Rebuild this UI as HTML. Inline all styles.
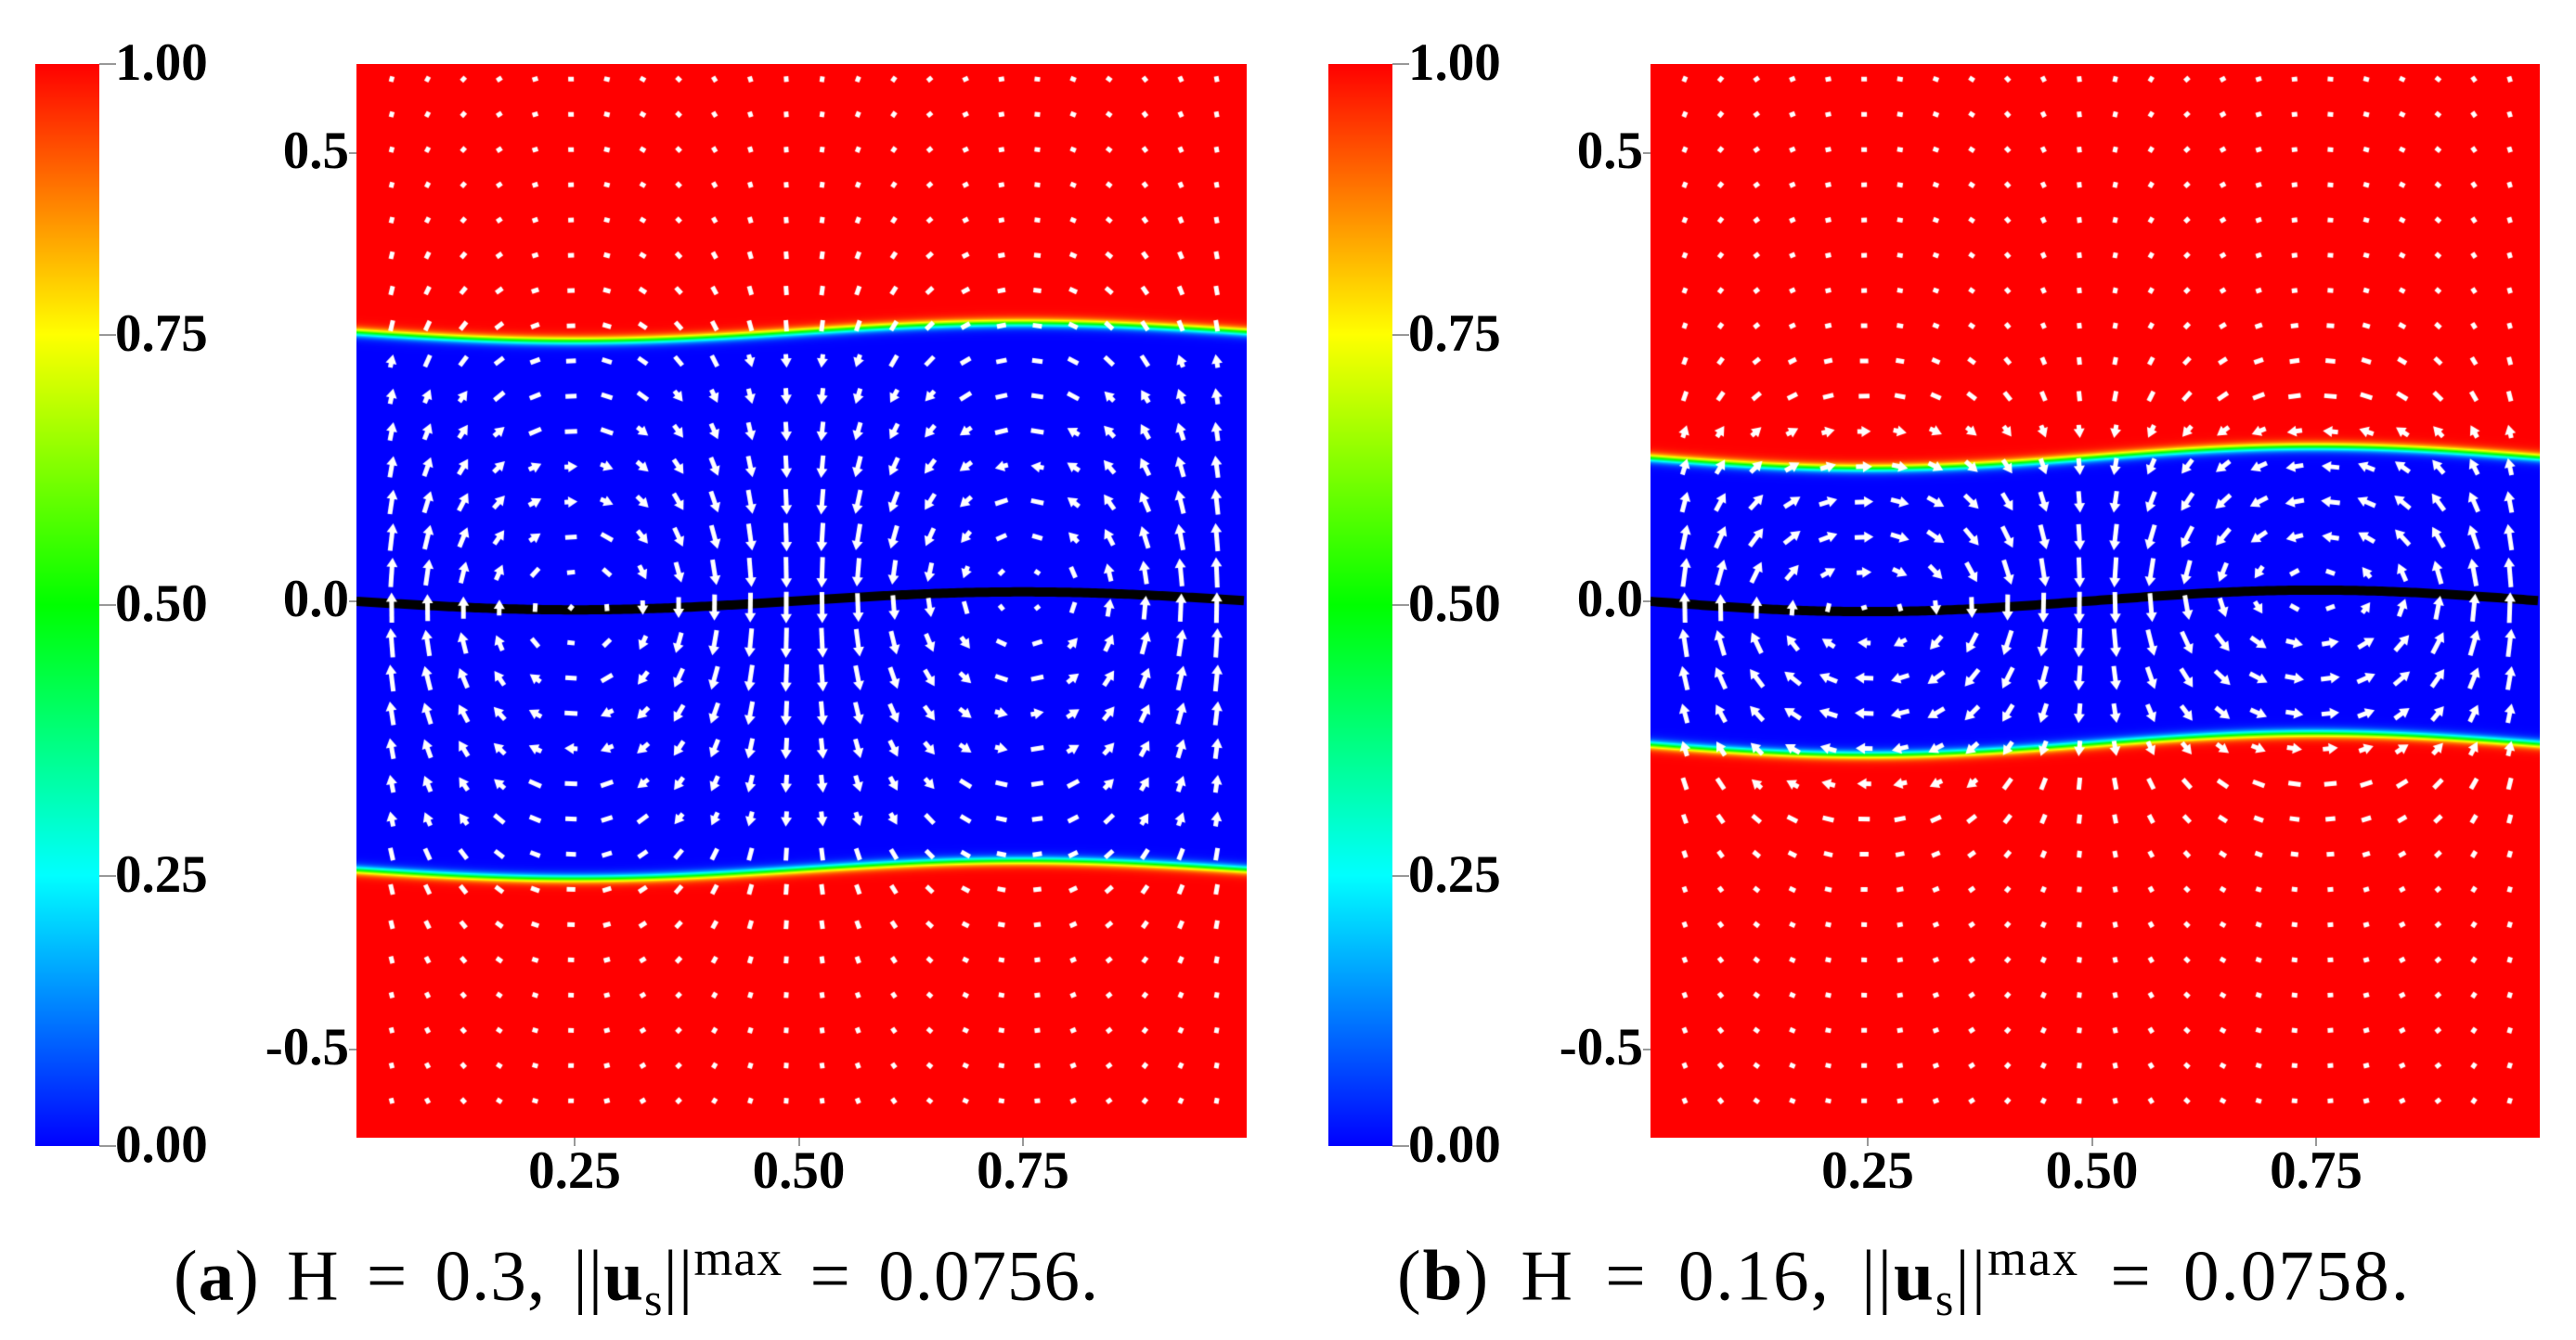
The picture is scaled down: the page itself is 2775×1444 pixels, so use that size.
<!DOCTYPE html>
<html><head><meta charset="utf-8">
<style>
html,body{margin:0;padding:0;background:#fff;}
body{width:2775px;height:1444px;position:relative;overflow:hidden;font-family:"Liberation Serif",serif;}
.lbl{position:absolute;font-weight:bold;font-size:57px;line-height:57px;color:#000;white-space:nowrap;}
.cap{position:absolute;font-size:77px;line-height:77px;color:#000;white-space:nowrap;letter-spacing:1px;word-spacing:9px;}
canvas{position:absolute;}
.cb{position:absolute;background:linear-gradient(to top,#0000ff 0%,#00ffff 25%,#00ff00 50%,#ffff00 75%,#ff0000 100%);}
.tk{position:absolute;background:#999;}
</style></head>
<body>
<div id="root"></div>
<div class="cap" style="left:187px;top:1318px;">(<b>a</b>) H = 0.3, ||<b>u</b><sub style="font-size:50px">s</sub>||<sup style="font-size:54px">max</sup> = 0.0756.</div>
<div class="cap" style="left:1505px;top:1318px;letter-spacing:2px;word-spacing:12px;">(<b>b</b>) H = 0.16, ||<b>u</b><sub style="font-size:50px">s</sub>||<sup style="font-size:54px">max</sup> = 0.0758.</div>
<script>
// data
const panelNames = ['a','b'];
const Hvals = [0.3, 0.16];
const amps = [0.01, 0.012];
const xTicks = [0.25, 0.5, 0.75];
const xTickLabels = ['0.25','0.50','0.75'];
const yTicks = [0.5, 0.0, -0.5];
const yTickLabels = ['0.5','0.0','-0.5'];
const cbTicks = [1.0, 0.75, 0.5, 0.25, 0.0];
const cbTickLabels = ['1.00','0.75','0.50','0.25','0.00'];

const root = document.body;
const plotL = [384, 1778], plotR = [1343, 2736];
const x0px = [377.5, 1770.5];
const PPU = 966, yTop = 69, yBot = 1226, y0px = 647.5;
const cbL = [38, 1431], cbW = 69, cbTop = 69, cbBot = 1235;

function jet(p){
  const st=[[0,0,255],[0,255,255],[0,255,0],[255,255,0],[255,0,0]];
  let t=Math.max(0,Math.min(1,p))*4, i=Math.min(3,Math.floor(t)), f=t-i;
  return st[i].map((c,k)=>Math.round(c+(st[i+1][k]-c)*f));
}

panelNames.forEach((nm,pi)=>{
  const H=Hvals[pi], A=amps[pi];
  const sx = v => x0px[pi] + v*PPU;
  const sy = v => y0px - v*PPU;
  const ivx = px => (px - x0px[pi])/PPU;
  const ivy = py => (y0px - py)/PPU;
  const eta = x => -A*Math.sin(2*Math.PI*x);
  const W = plotR[pi]-plotL[pi], Ht = yBot-yTop;
  const cv = document.createElement('canvas');
  
  
  cv.width=W; cv.height=Ht;
  cv.style.left=plotL[pi]+'px'; cv.style.top=yTop+'px';
  root.appendChild(cv);
  const ctx=cv.getContext('2d');
  const img=ctx.createImageData(W,Ht);
  const eps=0.0055;
  for(let i=0;i<W;i++){
    const x=ivx(plotL[pi]+i+0.5), e=eta(x);
    for(let j=0;j<Ht;j++){
      const y=ivy(yTop+j+0.5);
      const d=Math.abs(y-e)-H;
      const p=0.5*(1+Math.tanh(d/eps));
      const c=jet(p), o=(j*W+i)*4;
      img.data[o]=c[0];img.data[o+1]=c[1];img.data[o+2]=c[2];img.data[o+3]=255;
    }
  }
  ctx.putImageData(img,0,0);
  ctx.strokeStyle='#000'; ctx.lineWidth=10; ctx.beginPath();
  for(let i=0;i<=W;i+=4){const x=ivx(plotL[pi]+i); const py=sy(eta(x))-yTop; i?ctx.lineTo(i,py):ctx.moveTo(i,py);}
  ctx.stroke();
  ctx.strokeStyle='#fff'; ctx.fillStyle='#fff'; ctx.lineCap='butt';
  const k = 3.2/ (H+0.15);
  const g = y => { const a=Math.abs(y)*k; return (1+a)*Math.exp(-a); };
  const gp = y => { const a=Math.abs(y)*k; return -Math.sign(y)*k*a*Math.exp(-a); };
  for(let ci=0;ci<25;ci++){
    const x=0.046+0.04*ci;
    for(let rj=0;rj<30;rj++){
      const y=0.582-0.0393*rj;
      const yy=y-eta(x);
      let v=Math.cos(2*Math.PI*x)*g(yy);
      let u=-Math.sin(2*Math.PI*x)*gp(yy)/(2*Math.PI);
      const m=Math.hypot(u,v);
      const L=Math.max(6, 34*m);
      const ang=Math.atan2(-v,u);
      const cx=sx(x)-plotL[pi], cy=sy(y)-yTop;
      ctx.save(); ctx.translate(cx,cy); ctx.rotate(m>1e-6?ang:0);
      ctx.lineWidth=5;
      ctx.beginPath(); ctx.moveTo(-L/2,0); ctx.lineTo(L/2-(L>14?7:0),0); ctx.stroke();
      if(L>14){ctx.beginPath();ctx.moveTo(L/2,0);ctx.lineTo(L/2-10,-6);ctx.lineTo(L/2-10,6);ctx.closePath();ctx.fill();}
      ctx.restore();
    }
  }
  const cb=document.createElement('div');
  cb.className='cb';
  
  
  cb.style.cssText+=`left:${cbL[pi]}px;top:${cbTop}px;width:${cbW}px;height:${cbBot-cbTop}px;`;
  root.appendChild(cb);
  cbTicks.forEach((t,ti)=>{
    const py=cbBot-t*(cbBot-cbTop);
    const tk=document.createElement('div'); tk.className='tk';
    
    
    tk.style.cssText+=`left:${cbL[pi]+cbW}px;top:${py-1}px;width:18px;height:2px;`;
    root.appendChild(tk);
    const l=document.createElement('div'); l.className='lbl';
    
    
    l.textContent=cbTickLabels[ti];
    l.style.left=(cbL[pi]+cbW+17)+'px'; l.style.top=(py-30)+'px';
    root.appendChild(l);
  });
  xTicks.forEach((t,ti)=>{
    const px=sx(t);
    const tk=document.createElement('div'); tk.className='tk';
    
    
    tk.style.cssText+=`left:${px-1}px;top:${yBot}px;width:2px;height:9px;`;
    root.appendChild(tk);
    const l=document.createElement('div'); l.className='lbl';
    
    
    l.textContent=xTickLabels[ti];
    l.style.left=(px-60)+'px'; l.style.width='120px'; l.style.textAlign='center'; l.style.top='1233px';
    root.appendChild(l);
  });
  yTicks.forEach((t,ti)=>{
    const py=sy(t);
    const tk=document.createElement('div'); tk.className='tk';
    
    
    tk.style.cssText+=`left:${plotL[pi]-8}px;top:${py-1}px;width:8px;height:2px;`;
    root.appendChild(tk);
    const l=document.createElement('div'); l.className='lbl';
    
    
    l.textContent=yTickLabels[ti];
    l.style.left=(plotL[pi]-8-200)+'px'; l.style.width='200px'; l.style.textAlign='right'; l.style.top=(py-31)+'px';
    root.appendChild(l);
  });
});
</script>
</body></html>
